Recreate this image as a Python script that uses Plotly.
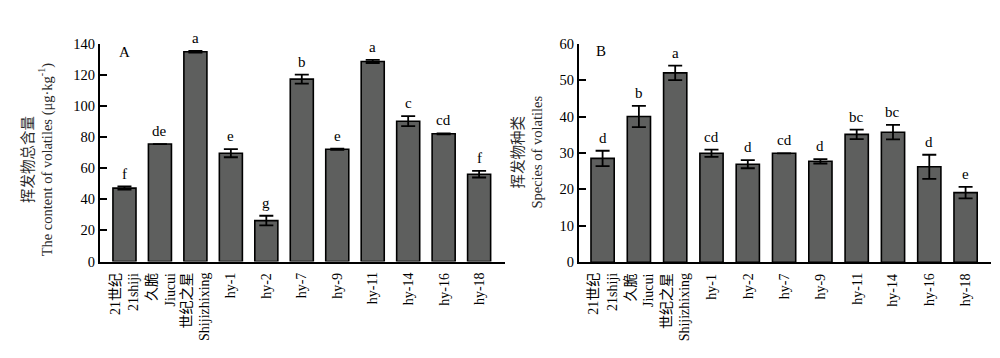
import plotly.graph_objects as go

categories = ["21世纪<br>21shiji", "久脆<br>Jiucui", "世纪之星<br>Shijizhixing",
              "hy-1", "hy-2", "hy-7", "hy-9", "hy-11", "hy-14", "hy-16", "hy-18"]

content_values = [47.2, 75.5, 134.8, 69.6, 26.3, 117.2, 72.2, 128.6, 90.2, 82.1, 56.1]
content_errors = [1.0, 0.0, 0.5, 2.6, 3.1, 2.9, 0.4, 1.0, 3.2, 0.3, 2.1]
content_letters = ["f", "de", "a", "e", "g", "b", "e", "a", "c", "cd", "f"]

species_values = [28.5, 40.0, 52.0, 29.9, 26.9, 29.9, 27.7, 35.1, 35.7, 26.2, 19.1]
species_errors = [2.1, 2.9, 2.0, 1.0, 1.1, 0.0, 0.6, 1.3, 2.0, 3.3, 1.6]
species_letters = ["d", "b", "a", "cd", "d", "cd", "d", "bc", "bc", "d", "e"]

W, H = 1000, 358
FONT = "Liberation Serif, Times New Roman, Noto Sans CJK SC, serif"
BAR_COLOR = "#5e5f5e"

def px_x(p):
    return p / W

def px_y(p):
    return 1 - p / H

x_idx = list(range(len(categories)))

fig = go.Figure()
fig.add_trace(go.Bar(
    x=x_idx, y=content_values, width=0.65,
    marker=dict(color=BAR_COLOR, line=dict(color="black", width=1.6)),
    error_y=dict(type="data", array=content_errors, visible=True,
                 color="black", thickness=1.8, width=7),
    xaxis="x", yaxis="y", hoverinfo="skip", showlegend=False))
fig.add_trace(go.Bar(
    x=x_idx, y=species_values, width=0.64,
    marker=dict(color=BAR_COLOR, line=dict(color="black", width=1.6)),
    error_y=dict(type="data", array=species_errors, visible=True,
                 color="black", thickness=1.8, width=7),
    xaxis="x2", yaxis="y2", hoverinfo="skip", showlegend=False))

annotations = []
for i, (v, e, t) in enumerate(zip(content_values, content_errors, content_letters)):
    annotations.append(dict(x=i, y=v + e, xref="x", yref="y", text=t,
                            showarrow=False, yanchor="middle", yshift=13,
                            font=dict(family=FONT, size=15, color="black")))
for i, (v, e, t) in enumerate(zip(species_values, species_errors, species_letters)):
    annotations.append(dict(x=i, y=v + e, xref="x2", yref="y2", text=t,
                            showarrow=False, yanchor="middle", yshift=13,
                            font=dict(family=FONT, size=15, color="black")))

# category labels (rotated, end-aligned at the axis)
for xr, ybase in (("x", 257), ("x2", 257.7)):
    for i, lab in enumerate(categories):
        annotations.append(dict(x=i, y=px_y(ybase), xref=xr, yref="paper", text=lab,
                                textangle=-90, showarrow=False, xanchor="center",
                                yanchor="top", yshift=-9, align="right",
                                font=dict(family=FONT, size=14, color="black")))

# panel letters
annotations.append(dict(x=px_x(116), y=px_y(38), xref="paper", yref="paper", text="A",
                        showarrow=False, xanchor="center", yanchor="middle",
                        font=dict(family=FONT, size=15, color="black")))
annotations.append(dict(x=px_x(593), y=px_y(37), xref="paper", yref="paper", text="B",
                        showarrow=False, xanchor="center", yanchor="middle",
                        font=dict(family=FONT, size=15, color="black")))

# y titles
annotations.append(dict(x=px_x(30), y=px_y(150), xref="paper", yref="paper",
                        text="挥发物总含量<br>The content of volatiles (μg·kg<sup>-1</sup>)",
                        textangle=-90, showarrow=False, xanchor="center", yanchor="middle",
                        font=dict(family=FONT, size=14.5, color="#2a2a2a")))
annotations.append(dict(x=px_x(520), y=px_y(143), xref="paper", yref="paper",
                        text="挥发物种类<br>Species of volatiles",
                        textangle=-90, showarrow=False, xanchor="center", yanchor="middle",
                        font=dict(family=FONT, size=14.5, color="#2a2a2a")))

xcommon = dict(tickmode="array", tickvals=x_idx, showticklabels=False,
               showline=True, linecolor="black", linewidth=2, ticks="",
               showgrid=False, zeroline=False)
ycommon = dict(showline=True, linecolor="black", linewidth=2, ticks="inside",
               ticklen=7, tickwidth=1.5, tickcolor="black", showgrid=False,
               zeroline=False, tickfont=dict(family=FONT, size=14.5, color="black"))

fig.update_layout(
    width=W, height=H, margin=dict(l=0, r=0, t=0, b=0),
    paper_bgcolor="white", plot_bgcolor="white",
    xaxis=dict(domain=[px_x(92), px_x(497)], range=[-0.69, 10.73], anchor="y", **xcommon),
    yaxis=dict(domain=[px_y(257), px_y(29)], range=[0, 140], dtick=20, anchor="x", **ycommon),
    xaxis2=dict(domain=[px_x(571), px_x(983)], range=[-0.65, 10.70], anchor="y2", **xcommon),
    yaxis2=dict(domain=[px_y(257.7), px_y(29)], range=[0, 60], dtick=10, anchor="x2", **ycommon),
    annotations=annotations, bargap=0.3,
)

fig.write_html("out.html")
